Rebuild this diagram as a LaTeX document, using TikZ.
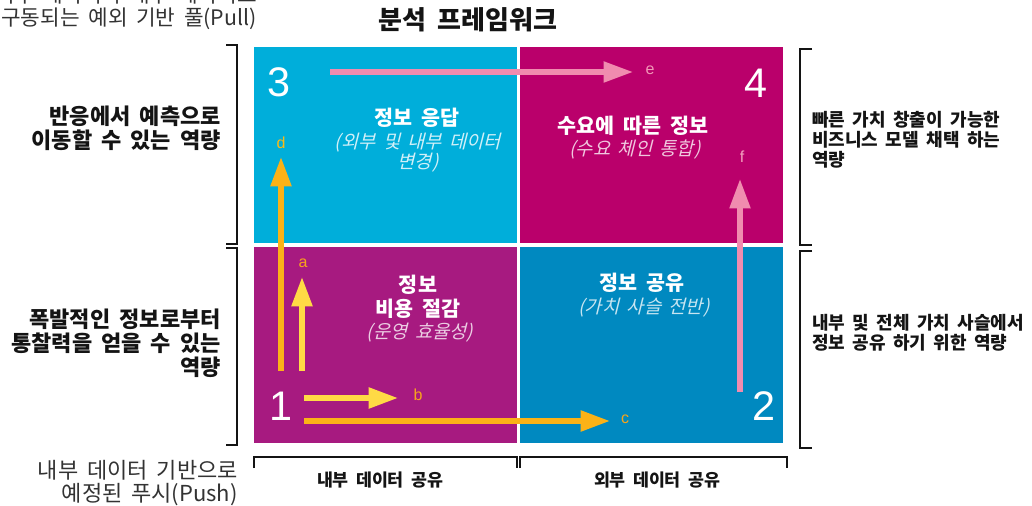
\documentclass[tikz,border=0pt]{standalone}
\usepackage{fontspec}
\setmainfont[WordSpace=1.8]{Noto Sans CJK KR}
\newfontfamily\krit[FakeSlant=0.25,WordSpace=1.8]{Noto Sans CJK KR}
\newfontfamily\lat{Liberation Sans}
\usetikzlibrary{arrows.meta}
\definecolor{qcyan}{HTML}{00AEDA}
\definecolor{qmag}{HTML}{BA006B}
\definecolor{qpur}{HTML}{A71A80}
\definecolor{qblue}{HTML}{0089C0}
\definecolor{aorange}{HTML}{FBB217}
\definecolor{ayellow}{HTML}{FFDA45}
\definecolor{apink}{HTML}{F08CAF}
\definecolor{lorange}{HTML}{F7A41C}
\definecolor{ink}{HTML}{141414}
\definecolor{greyink}{HTML}{333333}
\tikzset{
  quad/.style={rectangle, draw=none, inner sep=0pt, minimum width=197.25pt, minimum height=147pt},
  qnum/.style={text=white, font=\lat\fontsize{31}{31}\selectfont, inner sep=0pt},
  qtitle/.style={text=white, font=\bfseries\fontsize{15.5}{18}\selectfont, align=center, inner sep=0pt},
  qsub/.style={font=\krit\fontsize{14}{15}\selectfont, align=center, inner sep=0pt},
  arr/.style={line width=4pt, -{Triangle[length=22pt,width=15pt]}},
  alabel/.style={font=\lat\fontsize{12}{12}\selectfont, inner sep=0pt},
  brk/.style={draw=ink, line width=1.8pt},
  sidel/.style={text=ink, font=\bfseries\fontsize{16.5}{18}\selectfont, inner sep=0pt},
  sider/.style={text=ink, font=\bfseries\fontsize{13.5}{15}\selectfont, inner sep=0pt, anchor=west, align=left},
  botl/.style={text=ink, font=\bfseries\fontsize{13}{14}\selectfont, inner sep=0pt},
  note/.style={text=greyink, font=\fontsize{16.5}{17.5}\selectfont, inner sep=0pt, anchor=east, align=right}
}
\begin{document}
\begin{tikzpicture}[x=0.75pt,y=-0.75pt]
\useasboundingbox (0,0) rectangle (1032,506);

% title
\node[font=\bfseries\fontsize{19.5}{21}\selectfont, text=ink, inner sep=0pt] (title) at (468,20) {분석 프레임워크};

% quadrants
\node[quad, fill=qcyan] (q3) at (385.5,145) {};
\node[quad, fill=qmag]  (q4) at (651.5,145) {};
\node[quad, fill=qpur]  (q1) at (385.5,345) {};
\node[quad, fill=qblue] (q2) at (651.5,345) {};

% numbers
\node[qnum] (n3) at (279,82) {3};
\node[qnum] (n4) at (756,83) {4};
\node[qnum] (n1) at (281,406) {1};
\node[qnum] (n2) at (764,406) {2};

% quadrant texts
\node[qtitle] (t3) at (417,118) {정보 응답};
\node[qsub, text=white!82!qcyan] (s3) at (418,153) {(외부 및 내부 데이터\\변경)};
\node[qtitle] (t4) at (633,126) {수요에 따른 정보};
\node[qsub, text=white!78!qmag] (s4) at (635,150) {(수요 체인 통합)};
\node[qtitle] (t1) at (418,297) {정보\\비용 절감};
\node[qsub, text=white!78!qpur] (s1) at (420,333) {(운영 효율성)};
\node[qtitle] (t2) at (642,283) {정보 공유};
\node[qsub, text=white!78!qblue] (s2) at (644,308) {(가치 사슬 전반)};

% arrow end points
\coordinate (d0) at (281,371); \coordinate (d1) at (281,157);
\coordinate (a0) at (302,371); \coordinate (a1) at (302,277);
\coordinate (b0) at (304,398); \coordinate (b1) at (398,398);
\coordinate (c0) at (304,421); \coordinate (c1) at (610,421);
\coordinate (e0) at (330,72);  \coordinate (e1) at (633,72);
\coordinate (f0) at (740,392); \coordinate (f1) at (740,179);

\draw[arr, draw=aorange, -{Triangle[length=22pt,width=15pt,fill=aorange]}] (d0) -- (d1);
\draw[arr, draw=aorange] (c0) -- (c1);
\draw[arr, draw=ayellow] (a0) -- (a1);
\draw[arr, draw=ayellow] (b0) -- (b1);
\draw[arr, draw=apink, line width=3.8pt] (e0) -- (e1);
\draw[arr, draw=apink, line width=3.8pt] (f0) -- (f1);

% arrow labels
\node[alabel, text=aorange!90!yellow] (ld) at (281,143) {d};
\node[alabel, text=lorange] (la) at (303,263) {a};
\node[alabel, text=lorange] (lb) at (418,395) {b};
\node[alabel, text=lorange] (lc) at (625,419) {c};
\node[alabel, text=apink!90!white] (le) at (650,70) {e};
\node[alabel, text=apink!80!white] (lf) at (742,157) {f};

% left brackets
\draw[brk] (226,45) -- (237,45) -- (237,244) -- (226,244);
\draw[brk] (226,248) -- (237,248) -- (237,445) -- (226,445);
% right brackets
\draw[brk] (812,49) -- (800,49) -- (800,245) -- (812,245);
\draw[brk] (812,251) -- (800,251) -- (800,448) -- (812,448);
% bottom brackets
\draw[brk] (254,468) -- (254,457) -- (517,457) -- (517,468);
\draw[brk] (520,468) -- (520,457) -- (787,457) -- (787,468);

% side labels
\node[sidel, anchor=east, align=right] (l1) at (221,128) {반응에서 예측으로\\이동할 수 있는 역량};
\node[sidel, anchor=east, align=right] (l2) at (221,343) {폭발적인 정보로부터\\통찰력을 얻을 수 있는\\역량};
\node[sider] (r1) at (812,140) {빠른 가치 창출이 가능한\\비즈니스 모델 채택 하는\\역량};
\node[sider] (r2) at (812,333) {내부 및 전체 가치 사슬에서\\정보 공유 하기 위한 역량};
\node[botl] (b1l) at (380,480) {내부 데이터 공유};
\node[botl] (b2l) at (657,480) {외부 데이터 공유};

% notes
\node[note, font=\fontsize{16}{17.5}\selectfont] (pull) at (257,7) {외부 데이터와 내부 데이터로\\구동되는 예외 기반 풀(Pull)};
\node[note] (push) at (238,483) {내부 데이터 기반으로\\예정된 푸시(Push)};
\end{tikzpicture}
\end{document}
